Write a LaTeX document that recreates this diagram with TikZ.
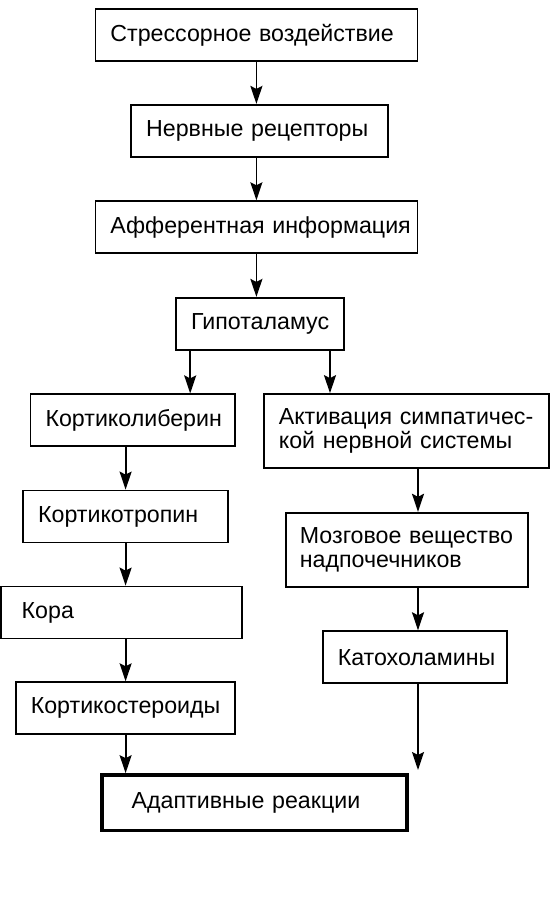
\documentclass[tikz,border=0pt]{standalone}
\usepackage{fontspec}
\setmainfont{Liberation Sans}
\usepackage{tikz}
\usetikzlibrary{arrows.meta}
\tikzset{stage/.style={draw, inner xsep=15pt, inner ysep=0pt, align=left, minimum height=52pt}}

\begin{document}
\begin{tikzpicture}[x=1pt, y=-1pt, line width=1.8pt, >={Stealth[length=18pt,width=12pt,inset=3pt]}, font=\fontsize{23.2}{24}\selectfont]
\useasboundingbox (0,0) rectangle (550,913);
\node[stage, text width=292pt] (stress) at (256.4,35.2) {Стрессорное воздействие};
\node[stage, text width=226.7pt] (recept) at (259.5,130.8) {Нервные рецепторы};
\node[stage, text width=292pt] (afferent) at (256.4,227.2) {\mbox{Афферентная информация}};
\node[stage, text width=138pt] (hypo) at (260.1,323.8) {Гипоталамус};
\node[stage, text width=174.5pt] (crh) at (132.8,420.3) {Кортиколиберин};
\node[stage, text width=255.1pt, minimum height=74.3pt] (symp) at (406.4,431.2) {Активация симпатичес-\\кой нервной системы};
\node[stage, text width=174.9pt] (acth) at (125.6,516.5) {Кортикотропин};
\node[stage, inner xsep=20.7pt, text width=199.6pt] (cortex) at (121.5,612.5) {Кора};
\node[stage, inner xsep=14pt, text width=214pt, minimum height=74.6pt] (medulla) at (406.9,550) {Мозговое вещество\\надпочечников};
\node[stage, text width=154.1pt] (catech) at (414.8,657.2) {Катохоламины};
\node[stage, text width=189.2pt] (steroids) at (125.4,708.2) {Кортикостероиды};
\node[stage, line width=3.6pt, inner xsep=30pt, text width=245.2pt, minimum height=55.7pt] (adapt) at (254.3,802.8) {Адаптивные реакции};
\coordinate (cend) at (418,770);
\foreach \a/\b in {stress/recept, recept/afferent, afferent/hypo}
 \draw[->] (stress.south |- \a.south) -- (stress.south |- \b.north);
\draw[->] ([xshift=15pt]hypo.south west) -- ([xshift=15pt]hypo.south west |- crh.north);
\draw[->] ([xshift=-15pt]hypo.south east) -- ([xshift=-15pt]hypo.south east |- symp.north);
\foreach \a/\b in {crh/acth, acth/cortex, cortex/steroids, steroids/adapt}
 \draw[->] (acth.south |- \a.south) -- (acth.south |- \b.north);
\foreach \a/\b in {symp/medulla, medulla/catech}
 \draw[->] (cend |- \a.south) -- (cend |- \b.north);
\draw[->] (cend |- catech.south) -- (cend);
\end{tikzpicture}
\end{document}
